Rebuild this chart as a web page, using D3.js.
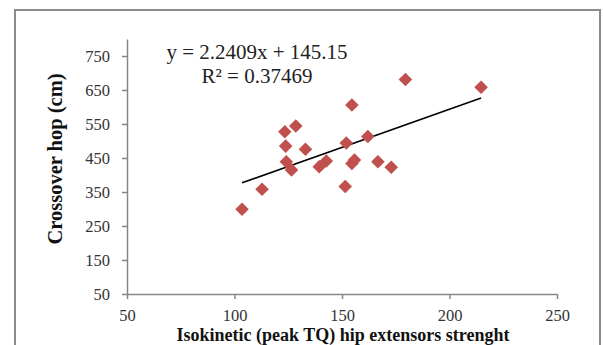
<!DOCTYPE html>
<html><head><meta charset="utf-8">
<script src="https://cdn.jsdelivr.net/npm/d3@7"></script>
<style>html,body{margin:0;padding:0;background:#fff;}svg{display:block;}</style>
</head><body>
<script>
// Data
const xValues = [103.5, 112.8, 123.4, 128.5, 123.8, 133.0, 124.1, 126.5, 139.4, 142.7,
                 152.0, 151.5, 154.6, 154.6, 155.8, 162.0, 166.7, 172.9, 179.5, 214.7];
const yValues = [299, 358, 527, 544, 485, 476, 439, 415, 424, 441,
                 494, 366, 606, 434, 444, 513, 439, 423, 681, 658];
const trendSlope = 2.2409;
const trendIntercept = 145.15;
const equationLabel = "y = 2.2409x + 145.15";
const r2Label = "R² = 0.37469";
const xTicks = [50, 100, 150, 200, 250];
const yTicks = [50, 150, 250, 350, 450, 550, 650, 750];
const xTitle = "Isokinetic (peak TQ) hip extensors strenght";
const yTitle = "Crossover hop (cm)";

const W = 603, H = 345;
const svg = d3.select("body").append("svg").attr("width", W).attr("height", H);

svg.append("rect").attr("x", 15).attr("y", 10).attr("width", 585).attr("height", 360)
  .attr("fill", "#fff").attr("stroke", "#8c8c8c").attr("stroke-width", 2);

const x = d3.scaleLinear().domain([50, 250]).range([127, 557]);
const y = d3.scaleLinear().domain([50, 800]).range([294, 39]);

const serif = "'Liberation Serif', 'Times New Roman', serif";

const xAxis = svg.append("g").attr("transform", `translate(0,${y(50)})`)
  .call(d3.axisBottom(x).tickValues(xTicks).tickSize(5).tickSizeOuter(0).tickPadding(10));
const yAxis = svg.append("g").attr("transform", `translate(${x(50)},0)`)
  .call(d3.axisLeft(y).tickValues(yTicks).tickSize(5).tickSizeOuter(0).tickPadding(12));

[xAxis, yAxis].forEach(g => {
  g.select(".domain").attr("stroke", "#868686").attr("stroke-width", 1.5);
  g.selectAll(".tick line").attr("stroke", "#868686").attr("stroke-width", 1.5);
  g.selectAll(".tick text").attr("font-family", serif).attr("font-size", 16.5).attr("fill", "#333");
});

// trendline
const xMin = d3.min(xValues), xMax = d3.max(xValues);
svg.append("line")
  .attr("x1", x(xMin)).attr("y1", y(trendSlope * xMin + trendIntercept))
  .attr("x2", x(xMax)).attr("y2", y(trendSlope * xMax + trendIntercept))
  .attr("stroke", "#000").attr("stroke-width", 1.6);

// markers
const sym = d3.symbol().type(d3.symbolSquare).size(92);
svg.append("g").selectAll("path").data(xValues.map((v, i) => [v, yValues[i]]))
  .join("path")
  .attr("d", sym)
  .attr("transform", d => `translate(${x(d[0])},${y(d[1])}) rotate(45)`)
  .attr("fill", "#C0504D");

// equation
svg.append("text").attr("x", 257).attr("y", 59).attr("text-anchor", "middle")
  .attr("font-family", serif).attr("font-size", 21).attr("fill", "#222").text(equationLabel);
svg.append("text").attr("x", 257).attr("y", 83).attr("text-anchor", "middle")
  .attr("font-family", serif).attr("font-size", 21).attr("fill", "#222").text(r2Label);

// axis titles
svg.append("text").attr("x", 343).attr("y", 340.5).attr("text-anchor", "middle")
  .attr("font-family", serif).attr("font-weight", "bold").attr("font-size", 18)
  .attr("fill", "#111").text(xTitle);
svg.append("text").attr("transform", "translate(62,159) rotate(-90)").attr("text-anchor", "middle")
  .attr("font-family", serif).attr("font-weight", "bold").attr("font-size", 20.5)
  .attr("fill", "#111").text(yTitle);
</script>
</body></html>
